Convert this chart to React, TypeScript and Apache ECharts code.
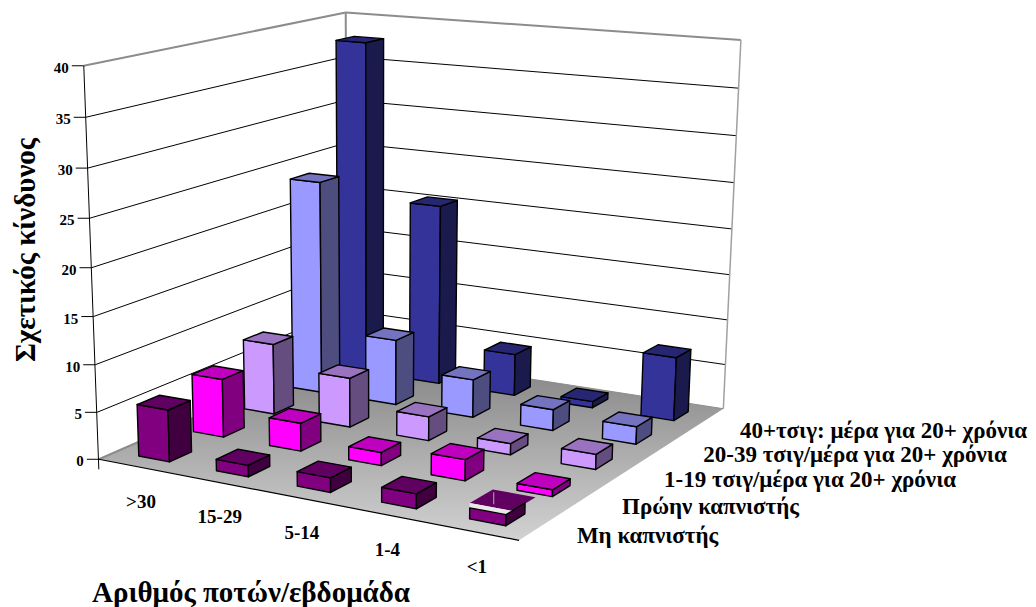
import React, { useEffect, useRef } from "react";
import * as echarts from "echarts";

// Risk table: one list per smoking group, values in drinking-category order.
const drinkCategories = [">30", "15-29", "5-14", "1-4", "<1"];
const smokingGroups = [
  "Μη καπνιστής",
  "Πρώην καπνιστής",
  "1-19 τσιγ/μέρα για 20+ χρόνια",
  "20-39 τσιγ/μέρα για 20+ χρόνια",
  "40+τσιγ: μέρα για 20+ χρόνια",
];
const nonSmoker = [5.5, 1.2, 1.5, 1.5, 1.1];
const formerSmoker = [6.3, 3, 1.4, 2.2, 0.7];
const light = [7.8, 5.4, 2.6, 1.2, 1.6];
const medium = [23.8, 7.3, 4.2, 2.3, 1.9];
const heavy = [37.8, 20.4, 4.7, 0.7, 7];
const riskRows = [nonSmoker, formerSmoker, light, medium, heavy];
const rowColors = ["#800080", "#FF00FF", "#CC99FF", "#9999FF", "#333399"];
const riskTicks = [0, 5, 10, 15, 20, 25, 30, 35, 40];
const riskMax = 40;
const barFill = 0.4; // share of a floor cell taken by a bar
const liftedLidCell = [4, 0]; // [category, group] of the bar whose lid sits off its box

// Reference frame of the box: unit-cube corner -> page pixel.
const boxAnchors: [number, number, number, number, number][] = [
  [0, 0, 0, 100, 460],
  [1, 0, 0, 518, 540],
  [1, 1, 0, 724, 410],
  [0, 1, 0, 346, 350],
  [0, 0, 1, 83, 64],
  [0, 1, 1, 346, 13],
  [1, 1, 1, 741, 42],
  [0, 0, 0.5, 92, 269],
  [1, 1, 0.5, 732, 226],
];

// Least-squares camera matrix for the anchors above.
function solveCamera(anchors: typeof boxAnchors): number[] {
  const n = 11;
  const ata = Array.from({ length: n }, () => new Array(n + 1).fill(0));
  const addRow = (row: number[], rhs: number) => {
    for (let i = 0; i < n; i++) {
      for (let j = 0; j < n; j++) ata[i][j] += row[i] * row[j];
      ata[i][n] += row[i] * rhs;
    }
  };
  anchors.forEach(([X, Y, Z, u, v]) => {
    addRow([X, Y, Z, 1, 0, 0, 0, 0, -u * X, -u * Y, -u * Z], u);
    addRow([0, 0, 0, 0, X, Y, Z, 1, -v * X, -v * Y, -v * Z], v);
  });
  for (let c = 0; c < n; c++) {
    let pivot = c;
    for (let r = c + 1; r < n; r++) if (Math.abs(ata[r][c]) > Math.abs(ata[pivot][c])) pivot = r;
    [ata[c], ata[pivot]] = [ata[pivot], ata[c]];
    for (let r = 0; r < n; r++) {
      if (r === c) continue;
      const f = ata[r][c] / ata[c][c];
      for (let k = c; k <= n; k++) ata[r][k] -= f * ata[c][k];
    }
  }
  return ata.map((row, i) => row[n] / row[i]);
}

const cam = solveCamera(boxAnchors);
const project = (X: number, Y: number, Z: number): number[] => {
  const w = cam[8] * X + cam[9] * Y + cam[10] * Z + 1;
  return [
    (cam[0] * X + cam[1] * Y + cam[2] * Z + cam[3]) / w,
    (cam[4] * X + cam[5] * Y + cam[6] * Z + cam[7]) / w,
  ];
};

const shade = (hex: string, k: number): string => {
  const v = parseInt(hex.slice(1), 16);
  const ch = (s: number) => Math.round(((v >> s) & 255) * k);
  return `rgb(${ch(16)},${ch(8)},${ch(0)})`;
};

const labelFont = "Liberation Serif";
const tickText = (text: string, x: number, y: number, size: number, align: string) => ({
  type: "text",
  silent: true,
  style: { text, x, y, fill: "#000", font: `bold ${size}px "${labelFont}"`, align, verticalAlign: "middle" },
});
const seg = (a: number[], b: number[], stroke: string, lineWidth: number) => ({
  type: "line",
  silent: true,
  shape: { x1: a[0], y1: a[1], x2: b[0], y2: b[1] },
  style: { stroke, lineWidth },
});

// Walls, floor, gridlines and all axis texts.
const renderFrame = () => {
  const children: any[] = [];
  const floor = [project(0, 0, 0), project(1, 0, 0), project(1, 1, 0), project(0, 1, 0)];
  children.push({
    type: "polygon",
    silent: true,
    shape: { points: floor },
    style: {
      fill: new echarts.graphic.LinearGradient(0, 0, 0, 1, [
        { offset: 0, color: "#808080" },
        { offset: 1, color: "#d2d2d2" },
      ]),
    },
  });
  riskTicks.forEach((t) => {
    const z = t / riskMax;
    const a = project(0, 0, z);
    const b = project(0, 1, z);
    const c = project(1, 1, z);
    const isTop = t === riskMax;
    if (t > 0) {
      children.push(seg(a, b, isTop ? "#8c8c8c" : "#000", isTop ? 2 : 1));
      children.push(seg(b, c, isTop ? "#8c8c8c" : "#000", isTop ? 2 : 1));
    }
    children.push(seg([a[0] - 12, a[1]], a, "#000", 1));
    children.push(tickText(String(t), a[0] - 15, a[1] + 2, 15, "right"));
  });
  children.push(seg(project(0, 1, 0), project(0, 1, 1), "#8c8c8c", 2));
  children.push(seg(project(1, 1, 0), project(1, 1, 1), "#a0a0a0", 1.5));
  children.push(seg(project(0, 0, 0), project(0, 1, 0), "#8c8c8c", 2));
  children.push(seg(project(1, 1, 0), project(0, 1, 0), "#8c8c8c", 1));
  const origin = project(0, 0, 0);
  children.push(seg(project(0, 0, 1), [origin[0], origin[1] + 10], "#000", 1));
  children.push(seg(origin, project(1, 0, 0), "#000", 1.2));

  drinkCategories.forEach((name, i) => {
    const p = project((i + 0.5) / drinkCategories.length, 0, 0);
    children.push(tickText(name, p[0] + 4, p[1] + 35, 19, "center"));
  });
  smokingGroups.forEach((name, j) => {
    const p = project(1, (j + 0.5) / smokingGroups.length, 0);
    children.push(tickText(name, p[0] + 34, p[1] + 11, 23, "left"));
  });
  return { type: "group", children };
};

const renderBar = (_: any, api: any) => {
  const col = api.value(0);
  const row = api.value(1);
  const h = api.value(2) / riskMax;
  const nx = drinkCategories.length;
  const ny = smokingGroups.length;
  const pad = (1 - barFill) / 2;
  const x0 = (col + pad) / nx;
  const x1 = (col + 1 - pad) / nx;
  const y0 = (row + pad) / ny;
  const y1 = (row + 1 - pad) / ny;
  const color = rowColors[row];
  const face = (pts: number[][], fill: string) => ({
    type: "polygon",
    shape: { points: pts },
    style: { fill, stroke: "#000", lineWidth: 1.4, lineJoin: "round" },
  });
  const frontFace = face([project(x0, y0, 0), project(x1, y0, 0), project(x1, y0, h), project(x0, y0, h)], color);
  const sideFace = face(
    [project(x1, y0, 0), project(x1, y1, 0), project(x1, y1, h), project(x1, y0, h)],
    shade(color, 0.5),
  );
  const lidPoints = [project(x0, y0, h), project(x1, y0, h), project(x1, y1, h), project(x0, y1, h)];

  if (col === liftedLidCell[0] && row === liftedLidCell[1]) {
    // Lid floats just above the box, with a pale gap and a grey seam.
    const lift = h + 0.012;
    const grow = 0.015;
    const lid = [
      project(x0, y0, lift),
      project(x1 + grow, y0, lift),
      project(x1 + grow, y1 + grow, lift),
      project(x0, y1 + grow, lift),
    ];
    const seamTop = project(x0 + 0.01, y1, lift);
    return {
      type: "group",
      children: [
        { type: "polygon", shape: { points: lidPoints }, style: { fill: "#e8e8e8" } },
        { type: "polygon", shape: { points: lid }, style: { fill: shade(color, 0.75) } },
        {
          type: "polygon",
          shape: { points: [project(x0, y0, h), project(x1, y0, h), lid[1], lid[0]] },
          style: { fill: "#e8e8e8" },
        },
        seg(seamTop, [seamTop[0], seamTop[1] + 12], "#9a9a9a", 1.2),
        frontFace,
        sideFace,
      ],
    };
  }
  return {
    type: "group",
    children: [frontFace, sideFace, face(lidPoints, shade(color, 0.75))],
  };
};

// Far bars first, so nearer ones paint over them.
const barCells: number[][] = [];
for (let row = riskRows.length - 1; row >= 0; row--) {
  riskRows[row].forEach((v, col) => barCells.push([col, row, v]));
}

export default function App() {
  const ref = useRef<HTMLDivElement>(null);
  useEffect(() => {
    const chart = echarts.init(ref.current!, undefined, { renderer: "svg" });
    chart.setOption({
      animation: false,
      backgroundColor: "#fff",
      series: [
        { type: "custom", coordinateSystem: "none", silent: true, data: [[0]], renderItem: renderFrame, z: 1 },
        { type: "custom", coordinateSystem: "none", silent: true, data: barCells, renderItem: renderBar, z: 2 },
      ],
      graphic: [
        {
          type: "text",
          x: 25,
          y: 250,
          rotation: Math.PI / 2,
          style: {
            text: "Σχετικός κίνδυνος",
            fill: "#000",
            font: `bold 29px "${labelFont}"`,
            align: "center",
            verticalAlign: "middle",
          },
        },
        {
          type: "text",
          x: 251,
          y: 592,
          style: {
            text: "Αριθμός ποτών/εβδομάδα",
            fill: "#000",
            font: `bold 29px "${labelFont}"`,
            align: "center",
            verticalAlign: "middle",
          },
        },
      ],
    });
    return () => chart.dispose();
  }, []);
  return <div ref={ref} style={{ position: "fixed", left: 0, top: 0, width: 1036, height: 607 }} />;
}
